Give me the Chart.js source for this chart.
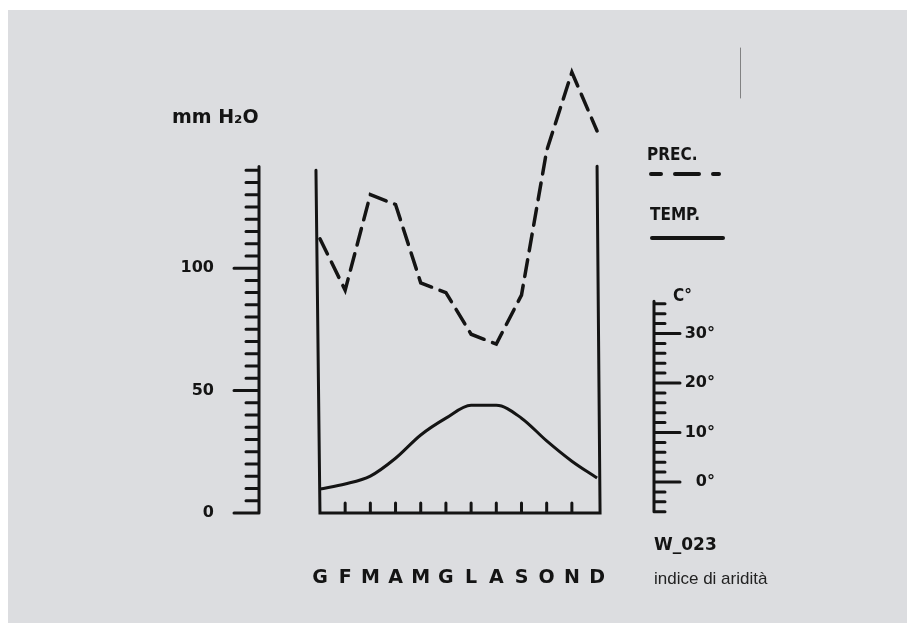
<!DOCTYPE html>
<html>
<head>
<meta charset="utf-8">
<script src="https://cdn.jsdelivr.net/npm/chart.js@4.4.1/dist/chart.umd.min.js"></script>
<style>
  html, body { margin: 0; padding: 0; background: #fff; }
  #paper { position: absolute; left: 8px; top: 10px; width: 899px; height: 613px; background: #dcdde0; }
  #wrap { position: absolute; left: 0; top: 0; width: 907px; height: 623px; }
</style>
</head>
<body>
<div id="paper"></div>
<div id="wrap"><canvas id="climateChart" width="907" height="623"></canvas></div>
<script>
// Monthly climate data (Italian month initials)
const months = ["G", "F", "M", "A", "M", "G", "L", "A", "S", "O", "N", "D"];
const precipitation = [112, 91, 130, 126, 94, 90, 73, 69, 89, 148, 180, 156];   // mm
const temperature = [-1.4, -0.4, 1.2, 4.8, 9.5, 12.9, 15.5, 15.5, 12.9, 8.3, 4.2, 0.8]; // °C

// axis extents and labelled ticks
const mmAxisRange = [0, 140];
const mmStep = 5;
const mmLabelValues = [0, 50, 100];
const tempAxisRange = [-6, 36];
const tempStep = 2;
const tempLabelValues = [0, 10, 20, 30];

const INK = "#141414";

function stepTicks(range, step) {
  const out = [];
  for (let v = range[0]; v <= range[1]; v += step) out.push({ value: v });
  return out;
}

// axis lines, tick marks, frame and side texts
const decorations = {
  id: "decorations",
  afterDraw(chart) {
    const { ctx, chartArea } = chart;
    const x = chart.scales.x, y = chart.scales.y, y1 = chart.scales.y1;
    ctx.save();
    ctx.strokeStyle = INK;
    ctx.fillStyle = INK;
    ctx.lineCap = "round";
    ctx.lineWidth = 3;

    // left mm axis
    const lx = chartArea.left;
    ctx.beginPath();
    ctx.moveTo(lx, y.getPixelForValue(mmAxisRange[0]));
    ctx.lineTo(lx, y.getPixelForValue(mmAxisRange[1] + 1.5));
    y.ticks.forEach(t => {
      const py = y.getPixelForValue(t.value);
      const len = mmLabelValues.includes(t.value) ? 25 : 13;
      ctx.moveTo(lx, py);
      ctx.lineTo(lx - len, py);
    });
    ctx.stroke();

    // right °C axis
    const rx = chartArea.right;
    ctx.beginPath();
    ctx.moveTo(rx, y1.getPixelForValue(tempAxisRange[0]));
    ctx.lineTo(rx, y1.getPixelForValue(tempAxisRange[1] + 0.5));
    y1.ticks.forEach(t => {
      const py = y1.getPixelForValue(t.value);
      const len = tempLabelValues.includes(t.value) ? 26 : 11;
      ctx.moveTo(rx, py);
      ctx.lineTo(rx + len, py);
    });
    ctx.stroke();

    // frame around the plot
    const x0 = x.getPixelForValue(1), x1 = x.getPixelForValue(12);
    const yb = y.getPixelForValue(0), yt = y.getPixelForValue(140);
    ctx.beginPath();
    ctx.moveTo(x0 - 4, yt);
    ctx.lineTo(x0, yb);
    ctx.lineTo(x1 + 3, yb);
    ctx.lineTo(x1, yt - 4);
    for (let m = 2; m <= 11; m++) {
      const px = x.getPixelForValue(m);
      ctx.moveTo(px, yb);
      ctx.lineTo(px, yb - 10);
    }
    ctx.stroke();

    // texts
    ctx.textBaseline = "middle";
    ctx.textAlign = "left";
    ctx.font = "bold 19px 'DejaVu Sans'";
    ctx.fillText("mm H\u2082O", 172, 118);
    ctx.font = "bold 17px 'DejaVu Sans Condensed'";
    ctx.fillText("PREC.", 647, 156);
    ctx.fillText("TEMP.", 650, 216);
    ctx.fillText("C\u00b0", 673, 297);
    ctx.font = "bold 17px 'DejaVu Sans'";
    ctx.fillText("W_023", 654, 546);

    // legend samples
    ctx.lineWidth = 4;
    ctx.beginPath();
    ctx.setLineDash([10, 14, 24, 14, 6, 100]);
    ctx.moveTo(651, 174);
    ctx.lineTo(721, 174);
    ctx.stroke();
    ctx.setLineDash([]);
    ctx.beginPath();
    ctx.moveTo(652, 238);
    ctx.lineTo(723, 238);
    ctx.stroke();

    ctx.font = "17px 'Liberation Sans'";
    ctx.fillStyle = "#222";
    ctx.fillText("indice di aridit\u00e0", 654, 579);

    // faint scan mark
    ctx.strokeStyle = "rgba(90,90,90,0.7)";
    ctx.lineWidth = 1;
    ctx.beginPath();
    ctx.moveTo(740.5, 48);
    ctx.lineTo(740.5, 98);
    ctx.stroke();
    ctx.restore();
  }
};

new Chart(document.getElementById("climateChart"), {
  type: "line",
  data: {
    datasets: [{
      label: "PREC.",
      data: precipitation.map((v, i) => ({ x: i + 1, y: v })),
      yAxisID: "y",
      borderColor: INK,
      borderWidth: 3.5,
      borderDash: [17, 9],
      borderCapStyle: "round",
      pointRadius: 0,
      tension: 0,
      clip: false
    }, {
      label: "TEMP.",
      data: temperature.map((v, i) => ({ x: i + 1, y: v })),
      yAxisID: "y1",
      borderColor: INK,
      borderWidth: 3,
      pointRadius: 0,
      cubicInterpolationMode: "monotone",
      clip: false
    }]
  },
  options: {
    responsive: false,
    devicePixelRatio: 1,
    animation: false,
    layout: { padding: { top: 60, left: 0, right: 192, bottom: 0 } },
    plugins: { legend: { display: false }, tooltip: { enabled: false } },
    scales: {
      x: {
        type: "linear",
        position: "bottom",
        min: -1.42,
        max: 14.26,
        afterBuildTicks: s => { s.ticks = months.map((m, i) => ({ value: i + 1 })); },
        afterFit: s => { s.height = 110; },
        ticks: {
          autoSkip: false,
          maxRotation: 0,
          padding: 54,
          color: INK,
          font: { family: "DejaVu Sans", size: 19, weight: "bold" },
          callback: v => months[v - 1]
        },
        grid: { display: false, drawTicks: false },
        border: { display: false }
      },
      y: {
        position: "left",
        min: 0,
        max: 185,
        afterBuildTicks: s => { s.ticks = stepTicks(mmAxisRange, mmStep); },
        afterFit: s => { s.width = 259; },
        ticks: {
          autoSkip: false,
          padding: 45,
          color: INK,
          font: { family: "DejaVu Sans", size: 16, weight: "bold" },
          callback: v => mmLabelValues.includes(v) ? String(v) : ""
        },
        grid: { display: false, drawTicks: false },
        border: { display: false }
      },
      y1: {
        position: "right",
        min: -6.26,
        max: 85.25,
        afterBuildTicks: s => { s.ticks = stepTicks(tempAxisRange, tempStep); },
        afterFit: s => { s.width = 61; },
        ticks: {
          autoSkip: false,
          crossAlign: "far",
          padding: 31,
          color: INK,
          font: { family: "DejaVu Sans", size: 16, weight: "bold" },
          callback: v => tempLabelValues.includes(v) ? v + "\u00b0" : ""
        },
        grid: { display: false, drawTicks: false },
        border: { display: false }
      }
    }
  },
  plugins: [decorations]
});
</script>
</body>
</html>
